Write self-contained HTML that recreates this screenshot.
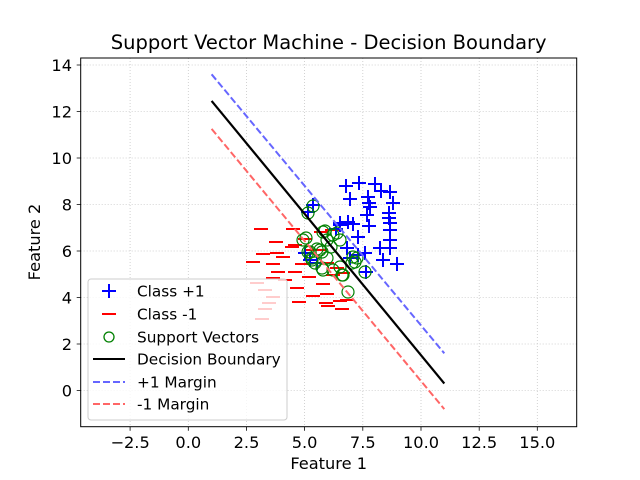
<!DOCTYPE html>
<html><head><meta charset="utf-8"><style>body{margin:0;background:#fff}svg{display:block}text{font-family:"DejaVu Sans","Liberation Sans",sans-serif;fill:#000}</style></head>
<body>
<svg width="640" height="480" viewBox="0 0 640 480" xmlns="http://www.w3.org/2000/svg">
<rect width="640" height="480" fill="#fff"/>
<g stroke="#b0b0b0" stroke-width="0.8" stroke-dasharray="1,2" opacity="0.7">
<line x1="130.1" y1="58" x2="130.1" y2="426.7"/><line x1="188.3" y1="58" x2="188.3" y2="426.7"/><line x1="246.5" y1="58" x2="246.5" y2="426.7"/><line x1="304.6" y1="58" x2="304.6" y2="426.7"/><line x1="362.8" y1="58" x2="362.8" y2="426.7"/><line x1="421" y1="58" x2="421" y2="426.7"/><line x1="479.2" y1="58" x2="479.2" y2="426.7"/><line x1="537.3" y1="58" x2="537.3" y2="426.7"/>
<line x1="80.7" y1="65" x2="576.7" y2="65"/><line x1="80.7" y1="111.5" x2="576.7" y2="111.5"/><line x1="80.7" y1="158" x2="576.7" y2="158"/><line x1="80.7" y1="204.5" x2="576.7" y2="204.5"/><line x1="80.7" y1="251" x2="576.7" y2="251"/><line x1="80.7" y1="297.5" x2="576.7" y2="297.5"/><line x1="80.7" y1="344" x2="576.7" y2="344"/><line x1="80.7" y1="390.5" x2="576.7" y2="390.5"/>
</g>
<g stroke="red" stroke-width="2">
<path d="M254 229h14M286 229h14M269 242h14M288 245h14M285 247h14M298 239h14M256 254h14M270 253h14M276 257h14M266 264h14M295 264h14M271 272h14M288 272h14M266 278h14M302 277h14M316 284h14M306 296h14M292 302h14M319 303h14M321 306h14M335 309h14M333 301h14M340 300h14M320 294h14M326 275h14M336 273h14M313 250h14M320 263h14M246 262h14M290 288h14M278 280h14M305 250h14M330 268h14M314 232h14M325 230h14M250 283h14M258 290h14M266 297h14M262 303h14M258 309h14M255 319h14"/>
</g>
<g stroke="blue" stroke-width="2">
<path d="M339 186h14M346 179v14M352 183h14M359 176v14M368 184h14M375 177v14M374 191h14M381 184v14M383 192h14M390 185v14M343 199h14M350 192v14M361 197h14M368 190v14M362 203h14M369 196v14M386 203h14M393 196v14M363 207h14M370 200v14M360 215h14M367 208v14M382 213h14M389 206v14M382 218h14M389 211v14M333 223h14M340 216v14M346 224h14M353 217v14M362 226h14M369 219v14M383 223h14M390 216v14M383 230h14M390 223v14M351 237h14M358 230v14M383 240h14M390 233v14M373 248h14M380 241v14M358 253h14M365 246v14M383 248h14M390 241v14M376 260h14M383 253v14M390 264h14M397 257v14M301 212h14M308 205v14M306 205h14M313 198v14M298 253h14M305 246v14M340 248h14M347 241v14M343 258h14M350 251v14M351 255h14M358 248v14M359 272h14M366 265v14M303 260h14M310 253v14M310 263h14M317 256v14M329 229h14M336 222v14M333 225h14M340 218v14M341 222h14M348 215v14"/>
</g>
<g fill="none" stroke="green" stroke-width="1.2">
<circle cx="306" cy="238" r="6"/><circle cx="325" cy="231" r="6"/><circle cx="337" cy="233" r="6"/><circle cx="327" cy="240" r="6"/><circle cx="331" cy="247" r="6"/><circle cx="322" cy="252" r="6"/><circle cx="317" cy="249" r="6"/><circle cx="308" cy="252" r="6"/><circle cx="312" cy="258" r="6"/><circle cx="315" cy="263" r="6"/><circle cx="323" cy="270" r="6"/><circle cx="340" cy="267" r="6"/><circle cx="343" cy="275" r="6"/><circle cx="348" cy="292" r="6"/><circle cx="353" cy="257" r="6"/><circle cx="355" cy="262" r="6"/><circle cx="303" cy="240" r="6"/><circle cx="323" cy="232" r="6"/><circle cx="333" cy="235" r="6"/><circle cx="340" cy="240" r="6"/><circle cx="310" cy="252" r="6"/><circle cx="320" cy="250" r="6"/><circle cx="327" cy="258" r="6"/><circle cx="312" cy="260" r="6"/><circle cx="322" cy="268" r="6"/><circle cx="333" cy="270" r="6"/><circle cx="342" cy="275" r="6"/><circle cx="352" cy="263" r="6"/><circle cx="357" cy="258" r="6"/><circle cx="365" cy="272" r="6"/><circle cx="313" cy="206" r="6"/><circle cx="308" cy="213" r="6"/>
</g>
<polyline points="211.6,74.3 444.3,353.3" stroke="#6666ff" stroke-width="2" stroke-dasharray="7,3" fill="none"/>
<polyline points="211.6,128.9 444.3,409.1" stroke="#ff6666" stroke-width="2" stroke-dasharray="7,3" fill="none"/>
<polyline points="211.6,100.9 444.3,383.5" stroke="#000" stroke-width="2.2" fill="none"/>
<rect x="88" y="279" width="199" height="141" rx="3" fill="#fff" fill-opacity="0.8" stroke="#ccc" stroke-width="1"/>
<g stroke-width="2">
<path d="M102 291h14M109 284v14" stroke="blue"/>
<path d="M102 314h14" stroke="red"/>
<circle cx="109" cy="337" r="5" fill="none" stroke="green" stroke-width="1.3"/>
<path d="M93 359h32" stroke="#000"/>
<path d="M93 382h32" stroke="#6666ff" stroke-dasharray="7,3"/>
<path d="M93 404h32" stroke="#ff6666" stroke-dasharray="7,3"/>
</g>
<g font-size="15.3">
<text x="137" y="296.5">Class +1</text><text x="137" y="319.5">Class -1</text><text x="137" y="342.5">Support Vectors</text><text x="137" y="364.5">Decision Boundary</text><text x="137" y="387.5">+1 Margin</text><text x="137" y="409.5">-1 Margin</text>
</g>
<rect x="80.7" y="58" width="496" height="368.7" fill="none" stroke="#000" stroke-width="1"/>
<g stroke="#000" stroke-width="0.8">
<path d="M130.1 426.7v4M188.3 426.7v4M246.5 426.7v4M304.6 426.7v4M362.8 426.7v4M421 426.7v4M479.2 426.7v4M537.3 426.7v4"/>
<path d="M80.7 65h-4M80.7 111.5h-4M80.7 158h-4M80.7 204.5h-4M80.7 251h-4M80.7 297.5h-4M80.7 344h-4M80.7 390.5h-4"/>
</g>
<g font-size="16.2" text-anchor="middle">
<text x="130.1" y="448">−2.5</text><text x="188.3" y="448">0.0</text><text x="246.5" y="448">2.5</text><text x="304.6" y="448">5.0</text><text x="362.8" y="448">7.5</text><text x="421" y="448">10.0</text><text x="479.2" y="448">12.5</text><text x="537.3" y="448">15.0</text>
</g>
<g font-size="16.2" text-anchor="end">
<text x="72" y="71">14</text><text x="72" y="117.5">12</text><text x="72" y="164">10</text><text x="72" y="210.5">8</text><text x="72" y="257">6</text><text x="72" y="303.5">4</text><text x="72" y="350">2</text><text x="72" y="396.5">0</text>
</g>
<text x="328.7" y="469" font-size="16.2" text-anchor="middle">Feature 1</text>
<text transform="translate(40,242) rotate(-90)" font-size="16.2" text-anchor="middle">Feature 2</text>
<text x="328.7" y="49" font-size="19.5" text-anchor="middle">Support Vector Machine - Decision Boundary</text>
</svg>
</body></html>
